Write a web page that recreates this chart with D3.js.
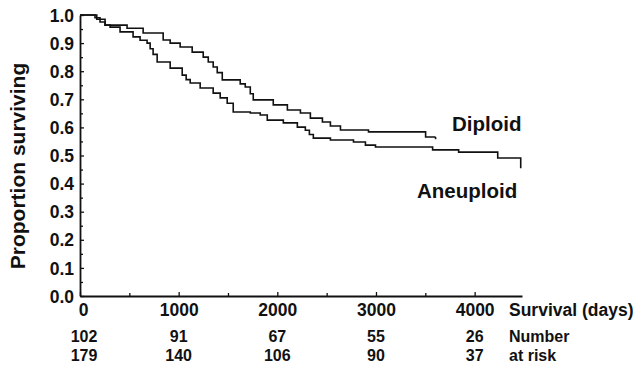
<!DOCTYPE html>
<html>
<head>
<meta charset="utf-8">
<script src="https://cdnjs.cloudflare.com/ajax/libs/d3/7.8.5/d3.min.js"></script>
<style>
body { margin: 0; background: #fff; }
svg text { font-family: "Liberation Sans", Arial, sans-serif; font-weight: bold; fill: #111; }
</style>
</head>
<body>
<svg id="chart"></svg>
<script>
// survival curves: [days, proportion surviving]
var diploid = [
    [0, 1.0], [170, 0.985], [254, 0.964], [477, 0.953], [640, 0.936],
    [843, 0.911], [914, 0.90], [1015, 0.886], [1137, 0.868], [1249, 0.85],
    [1300, 0.833], [1350, 0.815], [1391, 0.795], [1442, 0.769], [1624, 0.755],
    [1675, 0.744], [1726, 0.72], [1756, 0.698], [1959, 0.68], [2102, 0.662],
    [2234, 0.651], [2335, 0.633], [2457, 0.619], [2538, 0.605], [2640, 0.591],
    [2924, 0.584], [3503, 0.566], [3604, 0.566]
];
var aneuploid = [
    [0, 1.0], [152, 0.99], [203, 0.975], [254, 0.964], [305, 0.957],
    [406, 0.94], [538, 0.922], [609, 0.91], [680, 0.90], [711, 0.88],
    [741, 0.86], [782, 0.833], [914, 0.811], [1036, 0.786], [1076, 0.77],
    [1117, 0.758], [1218, 0.74], [1350, 0.722], [1421, 0.705], [1492, 0.686],
    [1553, 0.655], [1726, 0.651], [1827, 0.644], [1898, 0.626], [2061, 0.616],
    [2203, 0.601], [2284, 0.59], [2325, 0.575], [2365, 0.562], [2538, 0.555],
    [2772, 0.548], [2893, 0.537], [2995, 0.53], [3574, 0.52], [3838, 0.512],
    [4234, 0.491], [4467, 0.491], [4467, 0.455]
];

// end mark of the diploid curve
var diploidEnd = [3604, 0.566, 0.558];

// axis ticks
var xMajor = [0, 1000, 2000, 3000, 4000];
var xMinor = [500, 1500, 2500, 3500];
var yMajor = [0, 0.1, 0.2, 0.3, 0.4, 0.5, 0.6, 0.7, 0.8, 0.9, 1.0];
var yMinor = [0.05, 0.15, 0.25, 0.35, 0.45, 0.55, 0.65, 0.75, 0.85, 0.95];

// number at risk table
var riskDays = [0, 1000, 2000, 3000, 4000];
var riskTop = [102, 91, 67, 55, 26];
var riskBottom = [179, 140, 106, 90, 37];

var screen = {width: 640, height: 368};

var svg = d3.select("#chart")
    .attr("width", screen.width)
    .attr("height", screen.height);

var xScale = d3.scaleLinear()
    .domain([0, 4480])
    .range([80, 522]);

var yScale = d3.scaleLinear()
    .domain([0, 1])
    .range([296, 15]);

// minor ticks first, no labels
svg.append("g")
    .attr("transform", "translate(0," + yScale(0) + ")")
    .call(d3.axisBottom(xScale).tickValues(xMinor).tickSize(-3).tickFormat(""))
    .call(function(g) { g.select(".domain").remove(); });

svg.append("g")
    .attr("transform", "translate(" + xScale(0) + ",0)")
    .call(d3.axisLeft(yScale).tickValues(yMinor).tickSize(-3).tickFormat(""))
    .call(function(g) { g.select(".domain").remove(); });

// main axes
var xAxis = svg.append("g")
    .attr("transform", "translate(0," + yScale(0) + ")")
    .call(d3.axisBottom(xScale).tickValues(xMajor).tickSize(-4).tickSizeOuter(0).tickPadding(8)
        .tickFormat(d3.format("d")));

var yAxis = svg.append("g")
    .attr("transform", "translate(" + xScale(0) + ",0)")
    .call(d3.axisLeft(yScale).tickValues(yMajor).tickSize(-4).tickSizeOuter(0).tickPadding(6)
        .tickFormat(d3.format(".1f")));

svg.selectAll(".tick line").attr("stroke", "#111").attr("stroke-width", 1.3);
svg.selectAll(".domain").attr("stroke", "#111").attr("stroke-width", 1.8);
xAxis.selectAll("text").attr("font-size", 17.5).attr("fill", "#111");
yAxis.selectAll("text").attr("font-size", 17.5).attr("fill", "#111").attr("dy", "0.35em");
xAxis.select(".tick text").attr("dx", 3);
xAxis.attr("font-family", null);
yAxis.attr("font-family", null);

// curves
var line = d3.line()
    .x(function(d) { return xScale(d[0]); })
    .y(function(d) { return yScale(d[1]); })
    .curve(d3.curveStepAfter);

svg.selectAll(".curve")
    .data([diploid, aneuploid])
    .enter()
    .append("path")
    .attr("class", "curve")
    .attr("d", line)
    .attr("fill", "none")
    .attr("stroke", "#111")
    .attr("stroke-width", 1.6);

svg.append("line")
    .attr("x1", xScale(diploidEnd[0]))
    .attr("x2", xScale(diploidEnd[0]))
    .attr("y1", yScale(diploidEnd[1]))
    .attr("y2", yScale(diploidEnd[2]))
    .attr("stroke", "#111")
    .attr("stroke-width", 1.6);

// labels
svg.append("text")
    .attr("transform", "translate(25,166) rotate(-90)")
    .attr("text-anchor", "middle")
    .attr("font-size", 21)
    .text("Proportion surviving");

svg.append("text")
    .attr("x", 452).attr("y", 131)
    .attr("font-size", 20.5)
    .text("Diploid");

svg.append("text")
    .attr("x", 417).attr("y", 198)
    .attr("font-size", 20.5)
    .text("Aneuploid");

svg.append("text")
    .attr("x", 509).attr("y", 316)
    .attr("font-size", 17.5)
    .text("Survival (days)");

svg.append("text")
    .attr("x", 509).attr("y", 342)
    .attr("font-size", 16)
    .text("Number");

svg.append("text")
    .attr("x", 509).attr("y", 361)
    .attr("font-size", 16)
    .text("at risk");

// number at risk rows
var rows = [{vals: riskTop, y: 342}, {vals: riskBottom, y: 361}];
rows.forEach(function(row)
{
    svg.append("g")
        .selectAll("text")
        .data(row.vals)
        .enter()
        .append("text")
        .attr("x", function(d, i) { return xScale(riskDays[i]) + (i == 0 ? 4 : 0); })
        .attr("y", row.y)
        .attr("text-anchor", "middle")
        .attr("font-size", 16)
        .text(function(d) { return d; });
});
</script>
</body>
</html>
